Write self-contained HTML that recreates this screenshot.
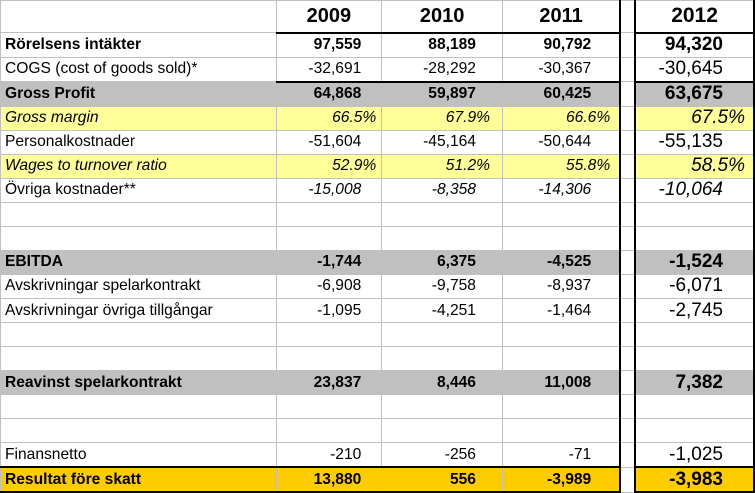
<!DOCTYPE html>
<html><head><meta charset="utf-8"><style>
html,body{margin:0;padding:0;background:#fff;}
body{width:755px;height:492px;overflow:hidden;position:relative;font-family:"Liberation Sans",Arial,sans-serif;}
table{border-collapse:collapse;table-layout:fixed;position:absolute;left:0;top:0;}
td{height:23.05px;padding:0;border:1px solid #c0c0c0;font-size:15.6px;white-space:nowrap;overflow:visible;color:#000;line-height:20px;}
td.l{padding-left:4px;text-align:left;}
td.a{text-align:right;padding-right:20px;}
td.b{text-align:right;padding-right:26px;}
td.c{text-align:right;padding-right:28px;}
td.d{text-align:right;padding-right:30px;font-size:19px;border-left:2px solid #000;border-right:2px solid #000;}
td.c{border-right:2px solid #000;}
td.g{background:#fff !important;}
tr.hd td{height:30.5px;font-size:20px;font-weight:bold;text-align:center;padding:0;}
tr.hd td.d{font-size:21px;}
tr.bold td{font-weight:bold;}
tr.gray td{background:#c0c0c0;}
tr.yel td{background:#ffff99;font-style:italic;}
tr.yel td.a{padding-right:5px}
tr.yel td.b{padding-right:12px}
tr.yel td.c{padding-right:9px}
tr.yel td.d{padding-right:8px}
tr.it td.a,tr.it td.b,tr.it td.c,tr.it td.d{font-style:italic}
tr.ul td.a,tr.ul td.b,tr.ul td.c,tr.ul td.d{border-bottom:2px solid #000}
tr.res td{background:#ffcc00;font-weight:bold;border-top:2px solid #000;border-bottom:2px solid #000;}
tr.res td.l{border-left:1px solid #c0c0c0}
</style></head><body>
<table>
<colgroup><col style="width:276px"><col style="width:106px"><col style="width:121px"><col style="width:118px"><col style="width:15px"><col style="width:119px"></colgroup>
<tr class="hd"><td class="l" style="border-bottom:1px solid #c0c0c0"></td><td style="border-bottom:2px solid #000">2009</td><td style="border-bottom:2px solid #000">2010</td><td style="border-bottom:2px solid #000;border-right:2px solid #000">2011</td><td class="g"></td><td class="d" style="text-align:center;padding:0;border-bottom:2px solid #000">2012</td></tr>
<tr class="bold"><td class="l">Rörelsens intäkter</td><td class="a">97,559</td><td class="b">88,189</td><td class="c">90,792</td><td class="g"></td><td class="d">94,320</td></tr>
<tr class="ul"><td class="l">COGS (cost of goods sold)*</td><td class="a">-32,691</td><td class="b">-28,292</td><td class="c">-30,367</td><td class="g"></td><td class="d">-30,645</td></tr>
<tr class="bold gray"><td class="l">Gross Profit</td><td class="a">64,868</td><td class="b">59,897</td><td class="c">60,425</td><td class="g"></td><td class="d">63,675</td></tr>
<tr class="yel"><td class="l">Gross margin</td><td class="a">66.5%</td><td class="b">67.9%</td><td class="c">66.6%</td><td class="g"></td><td class="d">67.5%</td></tr>
<tr><td class="l">Personalkostnader</td><td class="a">-51,604</td><td class="b">-45,164</td><td class="c">-50,644</td><td class="g"></td><td class="d">-55,135</td></tr>
<tr class="yel"><td class="l">Wages to turnover ratio</td><td class="a">52.9%</td><td class="b">51.2%</td><td class="c">55.8%</td><td class="g"></td><td class="d">58.5%</td></tr>
<tr class="it"><td class="l">Övriga kostnader**</td><td class="a">-15,008</td><td class="b">-8,358</td><td class="c">-14,306</td><td class="g"></td><td class="d">-10,064</td></tr>
<tr><td class="l"></td><td class="a"></td><td class="b"></td><td class="c"></td><td class="g"></td><td class="d"></td></tr>
<tr><td class="l"></td><td class="a"></td><td class="b"></td><td class="c"></td><td class="g"></td><td class="d"></td></tr>
<tr class="bold gray"><td class="l">EBITDA</td><td class="a">-1,744</td><td class="b">6,375</td><td class="c">-4,525</td><td class="g"></td><td class="d">-1,524</td></tr>
<tr><td class="l">Avskrivningar spelarkontrakt</td><td class="a">-6,908</td><td class="b">-9,758</td><td class="c">-8,937</td><td class="g"></td><td class="d">-6,071</td></tr>
<tr><td class="l">Avskrivningar övriga tillgångar</td><td class="a">-1,095</td><td class="b">-4,251</td><td class="c">-1,464</td><td class="g"></td><td class="d">-2,745</td></tr>
<tr><td class="l"></td><td class="a"></td><td class="b"></td><td class="c"></td><td class="g"></td><td class="d"></td></tr>
<tr><td class="l"></td><td class="a"></td><td class="b"></td><td class="c"></td><td class="g"></td><td class="d"></td></tr>
<tr class="bold gray"><td class="l">Reavinst spelarkontrakt</td><td class="a">23,837</td><td class="b">8,446</td><td class="c">11,008</td><td class="g"></td><td class="d">7,382</td></tr>
<tr><td class="l"></td><td class="a"></td><td class="b"></td><td class="c"></td><td class="g"></td><td class="d"></td></tr>
<tr><td class="l"></td><td class="a"></td><td class="b"></td><td class="c"></td><td class="g"></td><td class="d"></td></tr>
<tr><td class="l">Finansnetto</td><td class="a">-210</td><td class="b">-256</td><td class="c">-71</td><td class="g"></td><td class="d">-1,025</td></tr>
<tr class="res"><td class="l">Resultat före skatt</td><td class="a">13,880</td><td class="b">556</td><td class="c">-3,989</td><td class="g" style="border-top:1px solid #c0c0c0;border-bottom:1px solid #c0c0c0"></td><td class="d">-3,983</td></tr>
</table>
</body></html>
